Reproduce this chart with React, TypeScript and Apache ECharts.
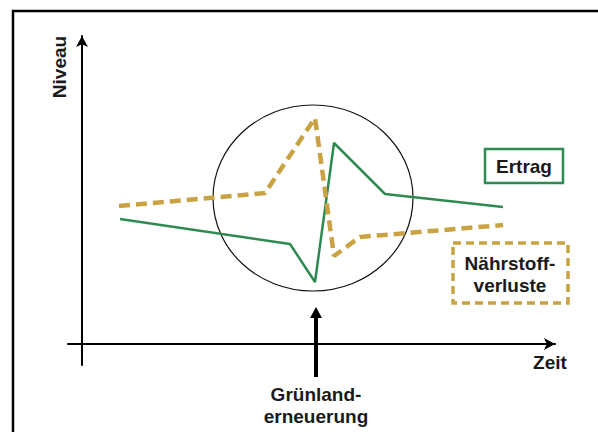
import React, { useEffect, useRef } from "react";
import * as echarts from "echarts";

// Conceptual chart: time (x) and level (y) in arbitrary units
const timeErtrag = [38, 208, 233, 252, 303, 421];
const niveauErtrag = [125, 100, 62, 201, 150, 137];
const timeNaehr = [37, 183, 233, 252, 278, 421];
const niveauNaehr = [138, 151, 226, 88, 107, 119];
const xRange = [-14, 473];
const yRange = [-21, 308];
const circleCenter = [231, 146];
const circleRadius = [100, 93];
const eventTime = 234;
const eventArrowFromTo = [-33, 37];

const GREEN = "#2F8A52";
const GOLD = "#C9A242";
const FONT = "'Liberation Sans', Arial, sans-serif";

export default function App() {
  const ref = useRef<HTMLDivElement>(null);
  useEffect(() => {
    if (!ref.current) return;
    const chart = echarts.init(ref.current, null, { renderer: "svg" });
    const axisCommon = {
      type: "value" as const,
      axisLine: {
        show: true,
        onZero: true,
        symbol: ["none", "arrow"],
        symbolSize: [9, 11],
        lineStyle: { color: "#000", width: 2 },
      },
      axisTick: { show: false },
      axisLabel: { show: false },
      splitLine: { show: false },
    };
    chart.setOption({
      animation: false,
      grid: { left: 68, right: 43, top: 36, bottom: 67 },
      xAxis: { ...axisCommon, min: xRange[0], max: xRange[1] },
      yAxis: { ...axisCommon, min: yRange[0], max: yRange[1] },
      series: [
        {
          name: "Ertrag",
          type: "line",
          showSymbol: false,
          clip: false,
          data: timeErtrag.map((t, i) => [t, niveauErtrag[i]]),
          lineStyle: { color: GREEN, width: 2.5 },
          itemStyle: { color: GREEN },
        },
        {
          name: "Nährstoffverluste",
          type: "line",
          showSymbol: false,
          clip: false,
          data: timeNaehr.map((t, i) => [t, niveauNaehr[i]]),
          lineStyle: { color: GOLD, width: 4.5, type: [11, 6] },
          itemStyle: { color: GOLD },
        },
      ],
    });
    const p = (x: number, y: number) =>
      chart.convertToPixel({ gridIndex: 0 }, [x, y]) as number[];
    const c = p(circleCenter[0], circleCenter[1]);
    const cEdge = p(circleCenter[0] + circleRadius[0], circleCenter[1] + circleRadius[1]);
    const rx = Math.abs(cEdge[0] - c[0]);
    const ry = Math.abs(cEdge[1] - c[1]);
    const aBottom = p(eventTime, eventArrowFromTo[0]);
    const aTip = p(eventTime, eventArrowFromTo[1]);
    const ax = aTip[0];
    const textStyle = (t: string, x: number, y: number, extra: any = {}) => ({
      type: "text",
      x,
      y,
      ...extra,
      style: {
        text: t,
        fill: "#1a1a1a",
        font: `bold 19px ${FONT}`,
        align: "center",
        verticalAlign: "middle",
      },
    });
    chart.setOption({
      graphic: [
        {
          type: "rect",
          shape: { x: 13, y: 11, width: 620, height: 460 },
          style: { fill: "none", stroke: "#000", lineWidth: 2.5 },
          silent: true,
        },
        {
          type: "ellipse",
          shape: { cx: c[0], cy: c[1], rx, ry },
          style: { fill: "none", stroke: "#111", lineWidth: 1.2 },
        },
        {
          type: "line",
          shape: { x1: ax, y1: aBottom[1], x2: ax, y2: aTip[1] + 9 },
          style: { stroke: "#000", lineWidth: 4 },
        },
        {
          type: "polygon",
          shape: { points: [[ax, aTip[1]], [ax - 6, aTip[1] + 11], [ax + 6, aTip[1] + 11]] },
          style: { fill: "#000" },
        },
        textStyle("Grünland-", ax, 394),
        textStyle("erneuerung", ax, 416),
        textStyle("Zeit", 550, 362),
        textStyle("Niveau", 59, 67, { rotation: Math.PI / 2 }),
        {
          type: "rect",
          shape: { x: 485, y: 149, width: 78, height: 34 },
          style: { fill: "#fff", stroke: GREEN, lineWidth: 2.5 },
        },
        textStyle("Ertrag", 524, 166),
        {
          type: "rect",
          shape: { x: 453, y: 243, width: 115, height: 60 },
          style: { fill: "#fff", stroke: GOLD, lineWidth: 3.5, lineDash: [8, 5] },
        },
        textStyle("Nährstoff-", 510, 263),
        textStyle("verluste", 510, 285),
      ],
    });
    return () => chart.dispose();
  }, []);
  return (
    <div
      ref={ref}
      style={{ position: "fixed", left: 0, top: 0, width: 598, height: 432, background: "#fff" }}
    />
  );
}
